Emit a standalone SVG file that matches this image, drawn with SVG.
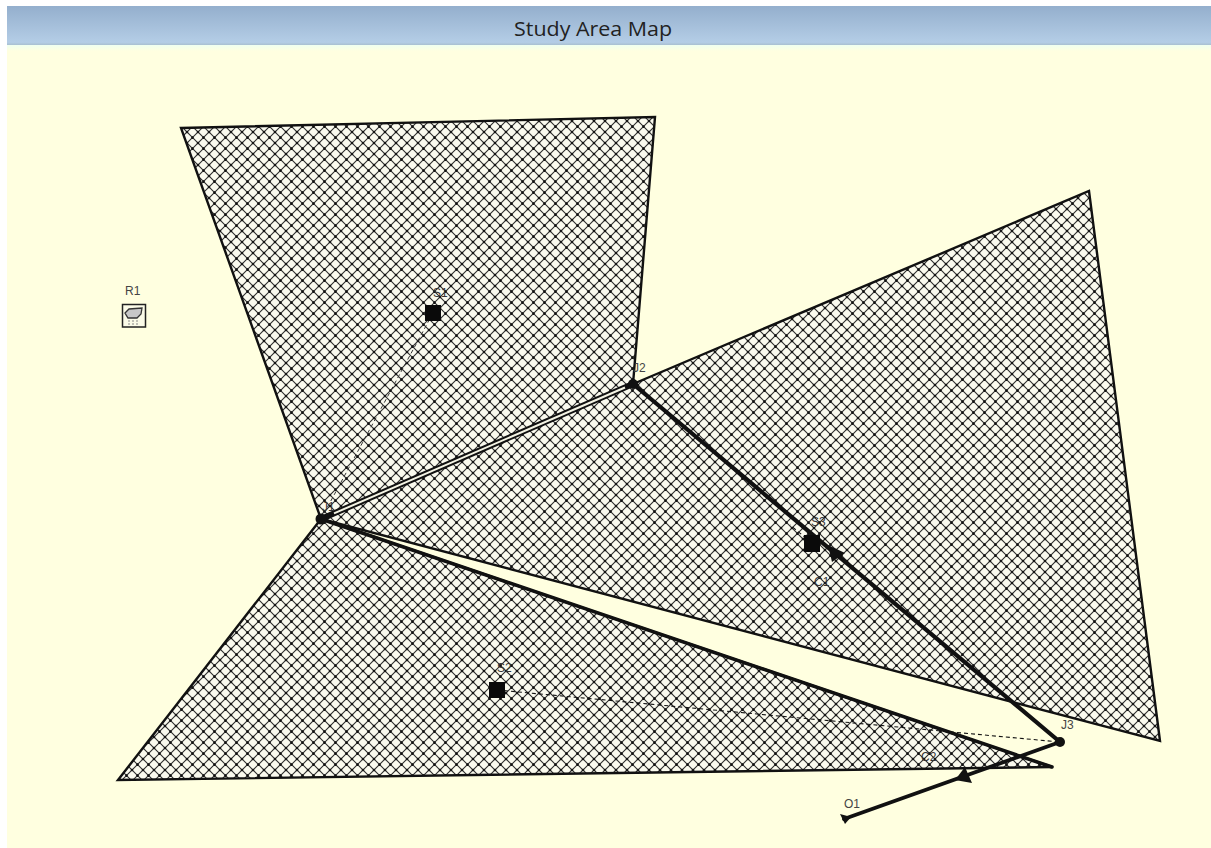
<svg xmlns="http://www.w3.org/2000/svg" width="1211" height="848" viewBox="0 0 1211 848">
<style>
text{font-family:"Liberation Sans",Arial,sans-serif;font-size:12px;fill:#444}
.faint{fill:#333}
.sub{fill:url(#hatch);stroke:#111;stroke-width:2.4;stroke-linejoin:miter}
.conduit{fill:none;stroke:#111;stroke-linecap:round}
.link{fill:none;stroke:#111;stroke-width:1.1;stroke-dasharray:4 3}
.sq{fill:#0a0a0a}
</style>
<defs>
<linearGradient id="hdr" x1="0" y1="0" x2="0" y2="1"><stop offset="0" stop-color="#94afcd"/><stop offset="0.93" stop-color="#b4cde6"/><stop offset="1" stop-color="#a9bfd0"/></linearGradient>
<linearGradient id="glow" x1="0" y1="0" x2="0" y2="1"><stop offset="0" stop-color="#f0fff0"/><stop offset="1" stop-color="#ffffe0"/></linearGradient>
<pattern id="hatch" width="11" height="11" patternUnits="userSpaceOnUse">
<rect width="11" height="11" fill="#fafaee"/>
<path d="M-1,1 L1,-1 M0,11 L11,0 M10,12 L12,10 M-1,10 L1,12 M0,0 L11,11 M10,-1 L12,1" stroke="#2c2c2c" stroke-width="1.1"/>
<path d="M5.500,3.900 L7.100,5.500 L5.500,7.100 L3.900,5.500 Z M0,-1.600 L1.600,0 L0,1.600 L-1.600,0 Z M11,-1.600 L12.600,0 L11,1.600 L9.400,0 Z M0,9.400 L1.600,11 L0,12.600 L-1.600,11 Z M11,9.400 L12.600,11 L11,12.600 L9.400,11 Z" fill="#111"/>
</pattern>
</defs>
<rect width="1211" height="848" fill="#fff"/>
<rect x="7" y="6" width="1204" height="842" fill="#ffffe0"/>
<rect x="7" y="6" width="1204" height="39" fill="url(#hdr)"/>
<rect x="7" y="45" width="1204" height="6" fill="url(#glow)"/>
<text x="593" y="36" text-anchor="middle" textLength="158" lengthAdjust="spacingAndGlyphs" style="font-family:'Open Sans',sans-serif;font-size:19.500px;fill:#222">Study Area Map</text>
<g id="subcatchments">
<polygon id="sub-s1" class="sub" points="181,128 655,117 633,384 321,519"/>
<polygon id="sub-s3" class="sub" points="1089,191 1160,741 321,519 633,384"/>
<polygon id="sub-s2" class="sub" points="321,519 1052,767 118,780"/>
</g>
<g id="connectors">
<path class="link" style="stroke-width:1;stroke:#333" d="M433,313 L321,519"/>
<path class="link" d="M497,690 L1060,742"/>
<path class="link" d="M812,543 L790,525"/>
<path class="conduit" stroke-width="6" d="M321,519 L633,384"/>
<path d="M334,513.400 L625,387.500" fill="none" stroke="#f4f4e4" stroke-width="2"/>
<path class="conduit" stroke-width="4.200" d="M633,384 L1060,742"/>
<path class="conduit" stroke-width="3.600" d="M321,519 L1052,767"/>
<path class="conduit" stroke-width="3.800" d="M1060,742 L844,819"/>
</g>
<g id="R1"><rect x="122.500" y="304.500" width="23" height="22.500" fill="#fbfbe8" stroke="#222" stroke-width="1.500"/><polygon points="125,313 129,309 142,308 141,314 137,318 128,318" fill="#c8c8c8" stroke="#333" stroke-width="1.300"/><path d="M129,320 V325 M133,320 V325 M137,320 V325" stroke="#888" stroke-dasharray="2 1"/><text x="125" y="295">R1</text></g>
<g id="S1"><rect x="425" y="305" width="16" height="16" class="sq"/><text class="faint" x="433" y="297">S1</text></g>
<g id="S2"><rect x="489" y="682" width="16" height="16" class="sq"/><text class="faint" x="497" y="672">S2</text></g>
<g id="S3"><rect x="804" y="535" width="16" height="17" class="sq"/><text class="faint" x="811" y="526">S3</text></g>
<g id="J1"><circle cx="321" cy="519" r="5.500" fill="#111"/><text class="faint" x="322" y="511">J1</text></g>
<g id="J2"><circle cx="633" cy="384" r="5" fill="#111"/><text x="633" y="372">J2</text></g>
<g id="J3"><circle cx="1060" cy="742" r="5" fill="#111"/><text x="1061" y="729">J3</text></g>
<g id="O1"><polygon points="840,814 851,817 845,824" fill="#111"/><text x="844" y="808">O1</text></g>
<g id="C1"><polygon points="828,545 845,553 832,562" fill="#111"/><text class="faint" x="814" y="586">C1</text></g>
<g id="C2"><polygon points="965,767 972,783 955,780" fill="#111"/><text class="faint" x="921" y="761">C2</text></g>
</svg>
